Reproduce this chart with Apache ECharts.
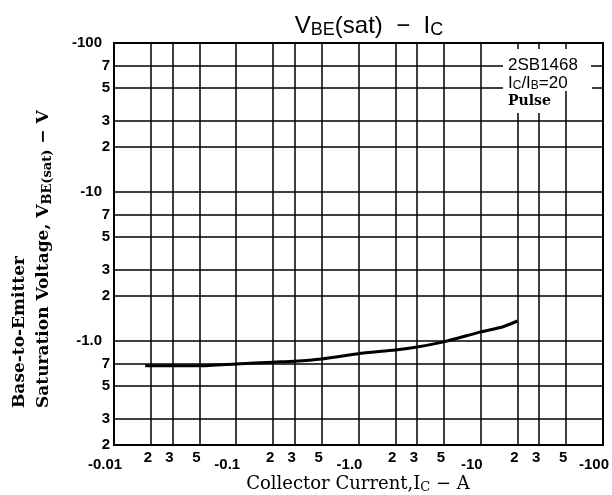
<!DOCTYPE html>
<html>
<head>
<meta charset="utf-8">
<script src="https://cdn.jsdelivr.net/npm/echarts@6/dist/echarts.min.js"></script>
<style>
html,body{margin:0;padding:0;background:#fff;}
#chart{width:612px;height:495px;}
</style>
</head>
<body>
<div id="chart"></div>
<script>
// ---- data ----
const xTickValues = [0.01, 0.02, 0.03, 0.05, 0.1, 0.2, 0.3, 0.5, 1, 2, 3, 5, 10, 20, 30, 50, 100];
const xTickLabels = ['-0.01', '2', '3', '5', '-0.1', '2', '3', '5', '-1.0', '2', '3', '5', '-10', '2', '3', '5', '-100'];
const yTickValues = [0.2, 0.3, 0.5, 0.7, 1, 2, 3, 5, 7, 10, 20, 30, 50, 70, 100];
const yTickLabels = ['2', '3', '5', '7', '-1.0', '2', '3', '5', '7', '-10', '2', '3', '5', '7', '-100'];
const icValues  = [0.018, 0.02, 0.03, 0.05, 0.1, 0.2, 0.3, 0.5, 1, 2, 3, 5, 10, 15, 20];
const vbeValues = [0.68, 0.68, 0.68, 0.68, 0.70, 0.72, 0.73, 0.757, 0.82, 0.87, 0.91, 0.985, 1.15, 1.24, 1.36];

function findLabel(values, labels, v) {
  for (let i = 0; i < values.length; i++) {
    if (Math.abs(Math.log10(values[i]) - Math.log10(v)) < 1e-6) return labels[i];
  }
  return '';
}

const labelFont = 'Liberation Sans';
const chart = echarts.init(document.getElementById('chart'), null, {renderer: 'canvas'});
const gridLine = {show: true, lineStyle: {color: '#000', width: 1.5}};

const option = {
  animation: false,
  backgroundColor: '#fff',
  grid: {left: 114, top: 43, right: 3, bottom: 50, show: true, borderColor: '#000', borderWidth: 2, backgroundColor: 'transparent'},
  xAxis: {
    type: 'log', logBase: 10, min: 0.01, max: 100,
    axisLine: {show: true, lineStyle: {color: '#000', width: 2}},
    axisTick: {show: false, customValues: xTickValues},
    splitLine: gridLine,
    axisLabel: {
      customValues: xTickValues,
      margin: 5,
      hideOverlap: false,
      formatter: function (v) {
        const s = findLabel(xTickValues, xTickLabels, v);
        return s.charAt(0) === '-' ? '{d|' + s + '}' : '{m|' + s + '}';
      },
      rich: {
        d: {fontFamily: labelFont, fontSize: 15, fontWeight: 'bold', color: '#000', padding: [7, 18, 0, 0]},
        m: {fontFamily: labelFont, fontSize: 15, fontWeight: 'bold', color: '#000', padding: [0, 6, 0, 0]}
      }
    }
  },
  yAxis: {
    type: 'log', logBase: 10, min: 0.2, max: 100,
    axisLine: {show: true, lineStyle: {color: '#000', width: 2}},
    axisTick: {show: false, customValues: yTickValues},
    splitLine: gridLine,
    axisLabel: {
      customValues: yTickValues,
      margin: 4,
      hideOverlap: false,
      formatter: function (v) {
        const s = findLabel(yTickValues, yTickLabels, v);
        return s.charAt(0) === '-' ? '{d|' + s + '}' : '{m|' + s + '}';
      },
      rich: {
        d: {fontFamily: labelFont, fontSize: 15, fontWeight: 'bold', color: '#000', padding: [0, 8, 0, 0]},
        m: {fontFamily: labelFont, fontSize: 15, fontWeight: 'bold', color: '#000'}
      }
    }
  },
  series: [{
    type: 'line',
    data: icValues.map((x, i) => [x, vbeValues[i]]),
    smooth: 0.2,
    symbol: 'none',
    lineStyle: {color: '#000', width: 3},
    z: 5
  }],
  graphic: [
    // legend whiteout boxes
    {type: 'rect', shape: {x: 503, y: 49, width: 88, height: 26}, style: {fill: '#fff'}, z: 100},
    {type: 'rect', shape: {x: 503, y: 75, width: 89, height: 16}, style: {fill: '#fff'}, z: 100},
    {type: 'rect', shape: {x: 503, y: 91, width: 60, height: 22}, style: {fill: '#fff'}, z: 100},
    {type: 'text', x: 508, y: 65, z: 101, style: {text: '2SB1468', fontFamily: labelFont, fontSize: 17, fill: '#000', verticalAlign: 'middle'}},
    {type: 'text', x: 508, y: 83, z: 101, style: {
      text: 'I{s|C}/I{s|B}=20', fontFamily: labelFont, fontSize: 17, fill: '#000', verticalAlign: 'middle',
      rich: {s: {fontFamily: labelFont, fontSize: 12, fill: '#000', padding: [5, 0, 0, 0]}}
    }},
    {type: 'text', x: 508, y: 101, z: 101, style: {text: 'Pulse', fontFamily: 'DejaVu Serif', fontWeight: 'bold', fontSize: 14, fill: '#000', verticalAlign: 'middle'}},
    // title
    {type: 'text', x: 369, y: 26, z: 101, style: {
      text: 'V{s|BE}(sat)  −  I{s|C}', fontFamily: labelFont, fontSize: 24, fill: '#000', align: 'center', verticalAlign: 'middle',
      rich: {s: {fontFamily: labelFont, fontSize: 18, fill: '#000', padding: [8, 0, 0, 0]}}
    }},
    // x axis title
    {type: 'text', x: 358, y: 484, z: 101, style: {
      text: 'Collector Current,I{s|C} − A', fontFamily: 'DejaVu Serif', fontSize: 18, fill: '#000', align: 'center', verticalAlign: 'middle',
      rich: {s: {fontFamily: 'DejaVu Serif', fontSize: 13, fill: '#000', padding: [7, 0, 0, 0]}}
    }},
    // y axis title
    {type: 'text', x: 20, y: 408, rotation: Math.PI / 2, z: 101, style: {
      text: 'Base-to-Emitter', fontFamily: 'DejaVu Serif', fontWeight: 'bold', fontSize: 17, fill: '#000', align: 'left', verticalAlign: 'middle'
    }},
    {type: 'text', x: 44, y: 408, rotation: Math.PI / 2, z: 101, style: {
      text: 'Saturation Voltage, V{s|BE(sat)} − V', fontFamily: 'DejaVu Serif', fontWeight: 'bold', fontSize: 17, fill: '#000', align: 'left', verticalAlign: 'middle',
      rich: {s: {fontFamily: 'DejaVu Serif', fontWeight: 'bold', fontSize: 13, fill: '#000', padding: [7, 0, 0, 0]}}
    }}
  ]
};
chart.setOption(option);
</script>
</body>
</html>
